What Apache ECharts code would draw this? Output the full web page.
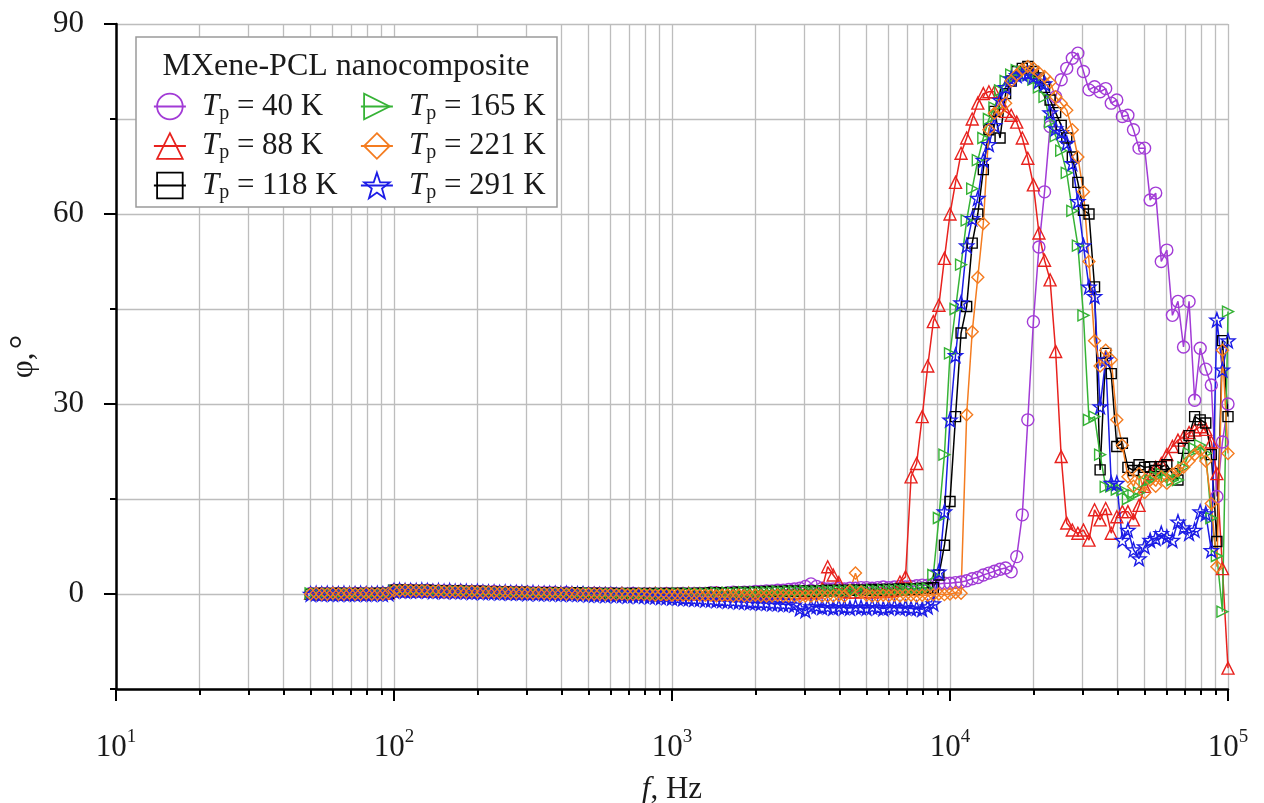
<!DOCTYPE html>
<html>
<head>
<meta charset="utf-8">
<script src="https://cdn.jsdelivr.net/npm/echarts@6/dist/echarts.min.js"></script>
<style>html,body{margin:0;padding:0;background:#fff}#main{width:1264px;height:803px}</style>
</head>
<body>
<div id="main"></div>
<script>
// ---------------- DATA ----------------
const freqHz = [
50.12,52.48,54.95,57.54,60.26,63.10,66.07,69.18,72.44,75.86,79.43,83.18,87.10,91.20,95.50,
100.0,104.7,109.6,114.8,120.2,125.9,131.8,138.0,144.5,151.4,158.5,166.0,173.8,182.0,190.5,199.5,208.9,218.8,229.1,239.9,
251.2,263.0,275.4,288.4,302.0,316.2,331.1,346.7,363.1,380.2,398.1,416.9,436.5,457.1,478.6,501.2,524.8,549.5,575.4,602.6,
631.0,660.7,691.8,724.4,758.6,794.3,831.8,871.0,912.0,955.0,
1000,1047,1096,1148,1202,1259,1318,1380,1445,1514,1585,1660,1738,1820,1905,1995,2089,2188,2291,2399,
2512,2630,2754,2884,3020,3162,3311,3467,3631,3802,3981,4169,4365,4571,4786,5012,5248,5495,5754,6026,
6310,6607,6918,7244,7586,7943,8318,8710,9120,9550,
10000,10470,10960,11480,12020,12590,13180,13800,14450,15140,15850,16600,17380,18200,19050,19950,20890,21880,22910,23990,
25120,26300,27540,28840,30200,31620,33110,34670,36310,38020,39810,41690,43650,45710,47860,50120,52480,54950,57540,60260,
63100,66070,69180,72440,75860,79430,83180,87100,91200,95500,
100000];

const seriesNames = ['40 K', '88 K', '118 K', '165 K', '221 K', '291 K'];

const phi40K = [
0.1,0.0,0.1,0.1,0.0,0.1,0.1,0.0,0.1,0.1,0.1,0.0,0.1,0.1,0.1,
0.6,0.6,0.5,0.6,0.5,0.5,0.6,0.5,0.5,0.5,0.5,0.4,0.5,0.4,0.4,0.4,
0.4,0.3,0.4,0.3,0.3,0.3,0.3,0.2,0.3,0.2,0.2,0.2,0.2,0.2,0.1,0.2,0.1,0.1,0.1,0.1,
0.1,0.1,0.0,0.1,0.0,0.0,0.0,0.1,0.0,0.0,0.0,0.0,0.0,0.1,0.0,0.0,0.1,0.0,0.1,0.1,
0.1,0.2,0.2,0.1,0.2,0.3,0.2,0.3,0.3,0.4,0.4,0.5,0.5,0.6,0.6,0.7,0.8,0.9,1.2,1.6,1.2,0.9,0.8,0.8,0.9,0.8,0.9,0.9,1.0,
1.0,0.9,1.0,1.1,1.0,1.1,1.2,1.1,1.2,1.3,1.4,1.4,1.5,1.6,1.7,1.7,1.8,1.9,2.1,2.4,2.6,3.0,3.3,3.6,3.9,4.1,3.5,
5.9,12.5,27.5,43,54.8,63.5,73.8,78.5,81.2,83,84.6,85.4,82.5,79.6,80.1,79.3,79.8,77.5,78,75.4,75.6,73.3,70.4,70.4,
62.2,63.3,52.5,54.3,44,46.2,39,46.2,30.6,38.8,35.5,33,15.4,24,30];

const phi88K = [
0.1,0.1,0.0,0.1,0.1,0.1,0.0,0.1,0.1,0.0,0.1,0.1,0.1,0.1,0.2,
0.6,0.5,0.6,0.5,0.6,0.5,0.5,0.5,0.5,0.4,0.5,0.4,0.5,0.4,0.4,0.4,
0.3,0.4,0.3,0.3,0.3,0.2,0.3,0.2,0.2,0.2,0.2,0.2,0.1,0.2,0.1,0.1,0.1,0.1,0.1,0.1,
0.1,0.0,0.1,0.0,0.0,0.1,0.0,0.0,0.0,0.0,0.0,0.1,0.0,0.0,0.0,0.0,0.0,0.1,0.0,0.0,
0.0,0.0,0.1,0.0,0.0,0.1,0.0,0.1,0.0,0.1,0.1,0.0,0.1,0.1,0.2,0.1,0.2,0.2,0.3,0.2,0.3,0.8,4.3,3.0,1.8,0.4,0.3,0.3,0.4,
0.4,0.3,0.4,0.5,0.4,0.6,1.9,
2.7,18.5,20.6,28,36,43,45.6,53,60,65,69.6,72,75,77.5,79,79.3,79.3,77.5,76.2,75.6,74.5,72,68.8,64.6,57,52.7,49.6,38.3,
21.7,11.2,10.1,9.6,10.1,8.5,13.3,11.7,13.5,9.6,12.2,13,13,11.7,14,17,19,20,20.6,22,23.3,24.3,24.8,25.5,25.9,26.4,26,24,19,4,-11.7];

const phi118K = [
0.0,0.1,0.1,0.0,0.1,0.1,0.1,0.0,0.1,0.1,0.0,0.1,0.1,0.1,0.1,
0.6,0.6,0.6,0.5,0.6,0.5,0.6,0.5,0.5,0.5,0.4,0.5,0.5,0.4,0.4,0.4,
0.4,0.3,0.3,0.3,0.3,0.3,0.2,0.3,0.2,0.2,0.2,0.2,0.2,0.2,0.1,0.1,0.1,0.2,0.1,0.1,
0.1,0.1,0.0,0.1,0.1,0.0,0.1,0.0,0.1,0.0,0.1,0.0,0.1,0.0,0.1,0.1,0.1,0.0,0.1,0.1,
0.1,0.2,0.1,0.2,0.2,0.2,0.3,0.2,0.3,0.3,0.3,0.4,0.4,0.4,0.4,0.5,0.4,0.5,0.5,0.4,0.5,0.5,0.6,0.5,0.6,0.5,0.6,0.6,0.6,
0.6,0.7,0.6,0.7,0.7,0.7,0.8,0.7,0.8,0.8,0.9,0.9,
1.0,3,7.7,14.6,28,41.2,45.4,55.4,60,67,73.3,76.2,72,79,81,82.5,83,83.3,82.5,81.5,80,78,76,74,72,69,65,60.6,60,48.5,
19.6,38,34.8,23.3,23.8,20,19.5,20.4,20,20.1,19.5,20.1,20.4,19,18,23,25,28,27.5,27,22,8.3,40,28];

const phi165K = [
0.1,0.1,0.0,0.1,0.1,0.0,0.1,0.1,0.1,0.0,0.1,0.1,0.0,0.1,0.1,
0.5,0.6,0.5,0.6,0.5,0.5,0.6,0.5,0.5,0.5,0.4,0.5,0.4,0.5,0.4,0.4,
0.3,0.4,0.3,0.3,0.3,0.2,0.3,0.2,0.2,0.3,0.2,0.2,0.1,0.2,0.2,0.1,0.1,0.1,0.1,0.2,
0.1,0.0,0.1,0.1,0.0,0.0,0.1,0.0,0.0,0.1,0.0,0.0,0.1,0.0,0.0,0.1,0.0,0.1,0.1,0.1,
0.1,0.1,0.2,0.1,0.2,0.2,0.2,0.3,0.2,0.3,0.3,0.3,0.3,0.4,0.3,0.4,0.4,0.4,0.5,0.4,0.4,0.5,0.5,0.4,0.5,0.5,0.5,0.6,0.5,
0.5,0.6,0.5,0.6,0.6,0.6,0.7,0.6,0.7,0.8,0.8,0.9,
3,12,22,38,45,52,59,64,68.5,72,75,76.8,79.5,81,82,82.7,82.5,82,81.2,80,78.5,74.5,72.3,70,66.5,60.5,55,44,
27.5,28,22,16.9,17,16.5,16.4,15,15.6,16,17.7,18,18.5,19,18.5,18,18,20,22.2,23,23.5,22.2,12,6,-2.8,44.6];

const phi221K = [
0.0,0.1,0.0,0.0,0.1,0.0,0.0,0.1,0.0,0.0,0.1,0.0,0.0,0.0,0.1,
0.5,0.5,0.6,0.5,0.5,0.5,0.5,0.4,0.5,0.4,0.4,0.4,0.4,0.3,0.4,0.3,
0.3,0.3,0.3,0.2,0.3,0.2,0.2,0.2,0.2,0.1,0.2,0.1,0.1,0.1,0.1,0.0,0.1,0.0,0.0,0.0,
0.0,0.0,-0.1,0.0,-0.1,0.0,-0.1,-0.1,0.0,-0.1,-0.1,-0.2,-0.1,-0.1,-0.2,-0.1,-0.2,-0.2,-0.1,-0.2,
-0.2,-0.2,-0.3,-0.2,-0.2,-0.3,-0.2,-0.3,-0.3,-0.2,-0.3,-0.3,-0.3,-0.2,-0.3,-0.3,-0.3,-0.4,-0.3,-0.3,-0.2,-0.3,-0.3,-0.3,-0.2,-0.3,0.5,3.3,0.3,
-0.2,-0.3,-0.3,-0.2,-0.3,-0.2,-0.3,-0.2,-0.2,-0.3,-0.2,-0.2,-0.1,0.0,-0.1,0.0,0.2,0.1,
28.3,41.4,50,58.5,73.3,75.9,76.5,77.5,81,82,82.8,83.3,83,82.3,81.7,80.8,78.5,77.5,76.4,73.3,69,63.5,52.5,40,
36,38.5,37,27.5,23.5,18.5,17,19,16,18,17,18.5,17.5,19,19.5,20,21,22,22.7,21,14.3,4.3,38.5,22.2];

const phi291K = [
0.0,0.1,0.0,0.1,0.0,0.0,0.1,0.0,0.0,0.1,0.0,0.0,0.1,0.0,0.1,
0.5,0.6,0.5,0.5,0.5,0.6,0.5,0.4,0.5,0.4,0.5,0.4,0.4,0.4,0.3,0.4,
0.3,0.3,0.3,0.2,0.3,0.2,0.2,0.2,0.1,0.2,0.1,0.1,0.1,0.1,0.0,0.1,0.0,0.0,0.0,-0.1,
-0.1,-0.1,-0.2,-0.1,-0.2,-0.2,-0.3,-0.2,-0.3,-0.3,-0.4,-0.4,-0.5,-0.5,-0.6,-0.6,-0.7,-0.7,-0.8,-0.8,
-0.9,-0.9,-1.0,-1.0,-1.1,-1.1,-1.2,-1.2,-1.3,-1.3,-1.4,-1.4,-1.5,-1.5,-1.6,-1.6,-1.7,-2.3,-2.6,-2.0,-1.9,-2.1,-2.0,-2.2,-2.0,-2.1,-2.2,-2.0,-2.1,
-2.2,-2.0,-2.1,-2.3,-2.1,-2.0,-2.2,-2.1,-2.3,-2.2,-2.4,-2.0,-1.5,
3.5,13,27.5,37.7,46,55,59.3,62.5,68.5,71,74,78,80,81.4,81.9,82.1,82.2,81.7,81,80.6,
76,73.5,72.9,71.2,68,62,55,48.5,47,29.6,37,17.5,17.5,8.5,10.1,7,5.6,7.5,8.5,8.8,9.6,9,8.5,11.4,10.5,9.6,10.1,13,12.7,6.9,43.3,35.4,40];

const decadeTicksHz = [10, 100, 1000, 10000, 100000];
const minorTicksHz = [20,30,40,50,60,70,80,90,200,300,400,500,600,700,800,900,
  2000,3000,4000,5000,6000,7000,8000,9000,20000,30000,40000,50000,60000,70000,80000,90000];
const yMajorTicks = [0, 30, 60, 90];

// ---------------- CHART ----------------
const SERIF = '"Liberation Serif", "DejaVu Serif", serif';
const TXT = '#1a1a1a';
const GRID = '#bdbdbd';
const colors = ['#a23bd6', '#e8221e', '#000000', '#36b336', '#f47c20', '#1c1ce6'];
const symbols = ['circle', 'triangle', 'rect', 'triangle', 'diamond',
  'path://M50,2 L61.8,35.8 L97.6,36.5 L69,58.2 L79.4,92.5 L50,72 L20.6,92.5 L31,58.2 L2.4,36.5 L38.2,35.8 Z'];
const sizes = [12, 12, 10, 11, 12, 14];
const rotates = [0, 0, 0, -90, 0, 0];
const values = [phi40K, phi88K, phi118K, phi165K, phi221K, phi291K];
const drawOrder = [0, 1, 2, 3, 5, 4];

function pairs(arr) { return freqHz.map((f, i) => [f, arr[i]]); }

const series = drawOrder.map(i => ({
  name: seriesNames[i],
  type: 'line',
  xAxisIndex: 0, yAxisIndex: 0,
  data: pairs(values[i]),
  symbol: symbols[i],
  symbolSize: sizes[i],
  symbolRotate: rotates[i],
  showAllSymbol: true,
  lineStyle: { color: colors[i], width: 1.5 },
  itemStyle: { color: 'rgba(255,255,255,0)', borderColor: colors[i], borderWidth: 1.4 },
  emphasis: { disabled: true },
  animation: false
}));

const legendRich = {
  i: { fontFamily: SERIF, fontSize: 31, fontStyle: 'italic', color: TXT, lineHeight: 34 },
  s: { fontFamily: SERIF, fontSize: 20, color: TXT, verticalAlign: 'bottom' },
  t: { fontFamily: SERIF, fontSize: 31, color: TXT, lineHeight: 34 }
};
function legendCfg(names, left) {
  return {
    data: names, orient: 'vertical', left: left, top: 91, padding: 0,
    itemWidth: 32, itemHeight: 32, itemGap: 7, selectedMode: false, z: 10,
    formatter: n => '{i|T}{s|p}{t| = ' + n + '}',
    textStyle: { fontFamily: SERIF, fontSize: 31, color: TXT, padding: [0, 0, 0, 11], rich: legendRich },
    lineStyle: { width: 1.8 },
    itemStyle: { borderWidth: 1.8 }
  };
}

const option = {
  backgroundColor: '#fff',
  animation: false,
  grid: { left: 116, top: 24, right: 36, bottom: 114, containLabel: false, outerBoundsMode: 'none' },
  graphic: [
    { type: 'rect', z: 8, shape: { x: 136, y: 37, width: 421, height: 170 },
      style: { fill: '#fff', stroke: '#9a9a9a', lineWidth: 1.5 } },
    { type: 'text', z: 9, x: 346, y: 67,
      style: { text: 'MXene-PCL nanocomposite', fontFamily: SERIF, fontSize: 32, fill: TXT,
               align: 'center', verticalAlign: 'middle' } }
  ],
  legend: [legendCfg([seriesNames[0], seriesNames[1], seriesNames[2]], 153),
           legendCfg([seriesNames[3], seriesNames[4], seriesNames[5]], 360)],
  xAxis: [
    { type: 'log', logBase: 10, min: decadeTicksHz[0], max: decadeTicksHz[4], position: 'bottom',
      axisLine: { onZero: false, lineStyle: { color: '#000', width: 2.5 } },
      axisTick: { length: 12, lineStyle: { color: '#000', width: 2 } },
      axisLabel: { margin: 39, color: TXT,
        formatter: v => '{b|10}{s|' + Math.round(Math.log10(v)) + '}',
        rich: { b: { fontFamily: SERIF, fontSize: 31, color: TXT, lineHeight: 40 },
                s: { fontFamily: SERIF, fontSize: 19, color: TXT, verticalAlign: 'top' } } },
      splitLine: { show: true, lineStyle: { color: GRID, width: 1.3 } },
      name: '{i|f}{t|, Hz}', nameLocation: 'middle', nameGap: 85,
      nameTextStyle: { rich: { i: { fontFamily: SERIF, fontSize: 31, fontStyle: 'italic', color: TXT },
                               t: { fontFamily: SERIF, fontSize: 31, color: TXT } } } },
    { type: 'value', min: 1, max: 5, position: 'bottom',
      axisLine: { show: false, onZero: false },
      axisTick: { customValues: minorTicksHz.map(v => Math.log10(v)), length: 6, lineStyle: { color: '#000', width: 2 } },
      axisLabel: { show: false },
      splitLine: { show: true, lineStyle: { color: GRID, width: 1.3 } } }
  ],
  yAxis: [
    { type: 'value', min: -15, max: 90, interval: 15,
      axisLine: { show: true, onZero: false, lineStyle: { color: '#000', width: 2.5 } },
      axisTick: { length: 6, lineStyle: { color: '#000', width: 2 } },
      axisLabel: { margin: 32, fontFamily: SERIF, fontSize: 31, color: TXT,
        formatter: v => (v % 30 === 0 ? String(v) : '') },
      splitLine: { show: true, lineStyle: { color: GRID, width: 1.3 } },
      name: '{p|φ,} {d|°}', nameLocation: 'middle', nameGap: 62, nameRotate: 90,
      nameTextStyle: { rich: { p: { fontFamily: SERIF, fontSize: 31, color: TXT },
                               d: { fontFamily: SERIF, fontSize: 36, color: TXT } } } },
    { type: 'value', min: -15, max: 90, interval: 15, position: 'left',
      axisLine: { show: false, onZero: false },
      axisTick: { customValues: yMajorTicks, length: 12, lineStyle: { color: '#000', width: 2 } },
      axisLabel: { show: false },
      splitLine: { show: false } }
  ],
  series: series
};

const chart = echarts.init(document.getElementById('main'), null, { renderer: 'canvas' });
chart.setOption(option);
</script>
</body>
</html>
